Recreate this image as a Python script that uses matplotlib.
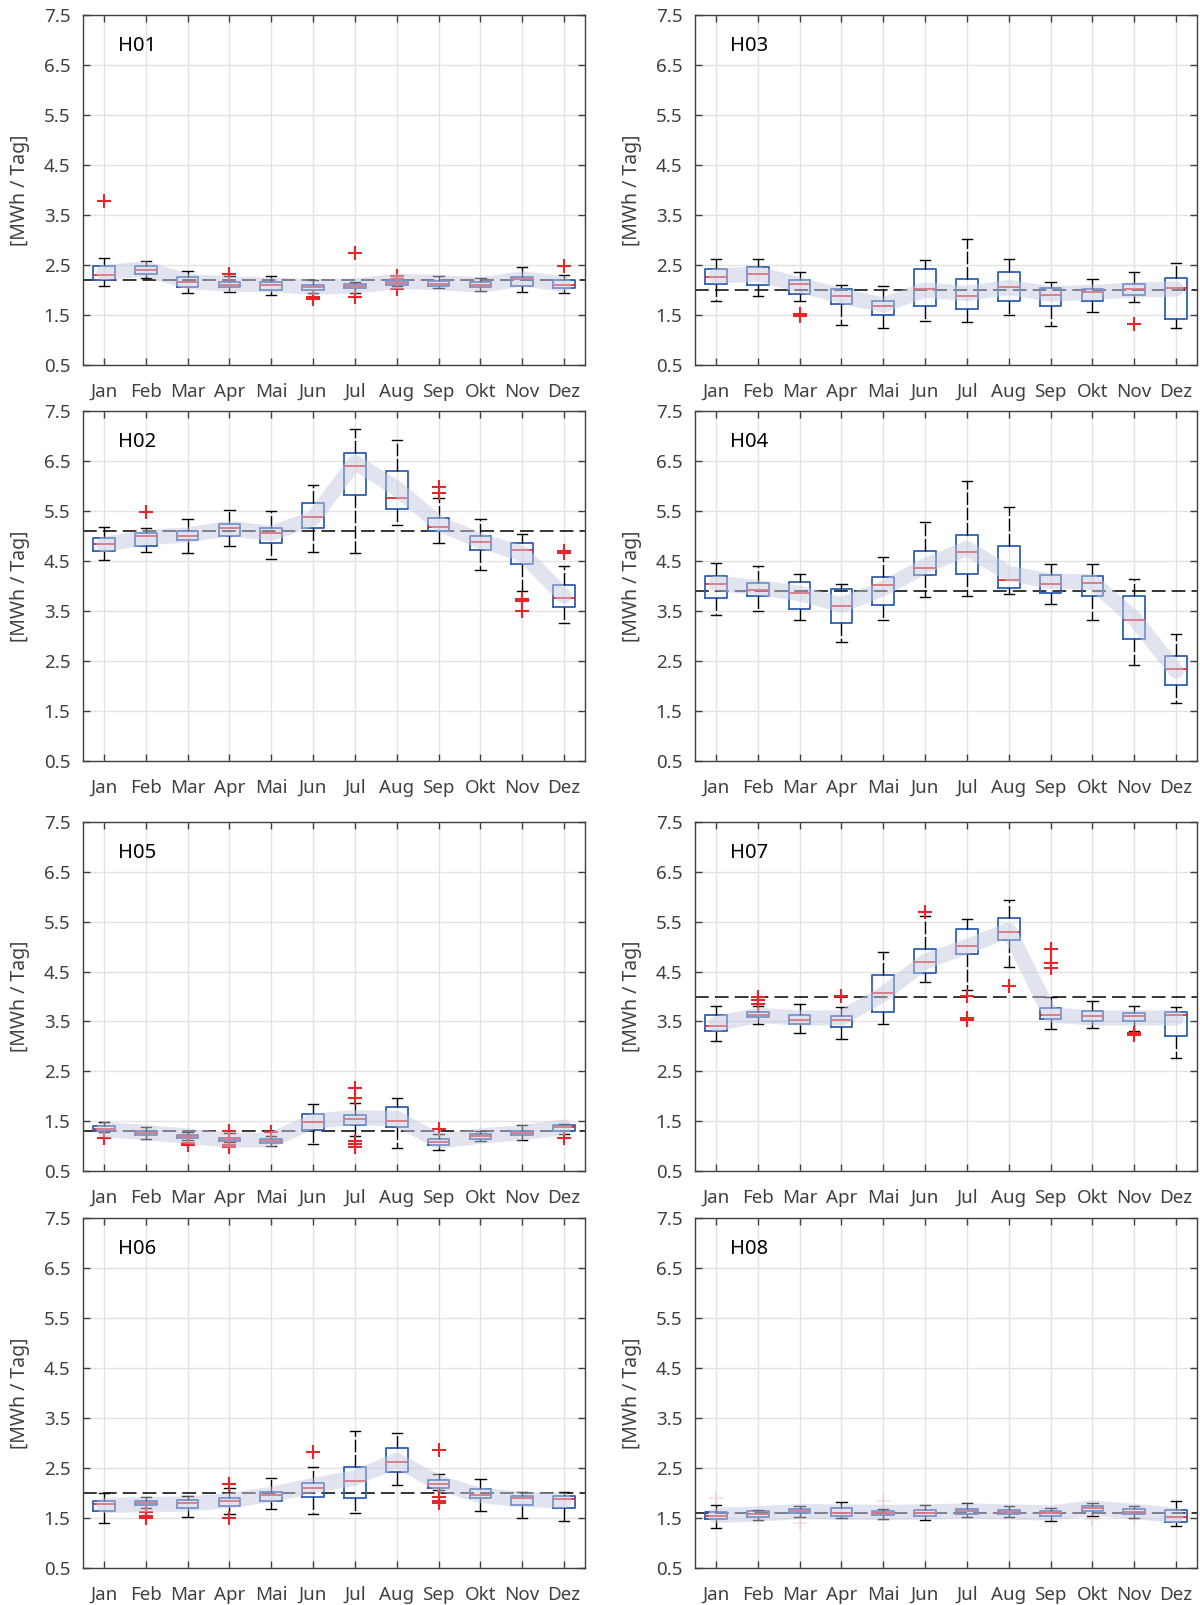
import matplotlib
matplotlib.use("Agg")
import matplotlib.pyplot as plt

plt.rcParams['font.family'] = ['Noto Sans', 'DejaVu Sans']

months = ["Jan", "Feb", "Mar", "Apr", "Mai", "Jun", "Jul", "Aug", "Sep", "Okt", "Nov", "Dez"]
yticks = [0.5, 1.5, 2.5, 3.5, 4.5, 5.5, 6.5, 7.5]

# H01
h01_lo = [2.09, 2.25, 1.95, 1.97, 1.90, 1.94, 1.95, 2.08, 2.04, 1.99, 1.97, 1.94]
h01_q1 = [2.21, 2.33, 2.07, 2.07, 2.00, 2.01, 2.05, 2.11, 2.08, 2.07, 2.08, 2.05]
h01_med = [2.31, 2.41, 2.17, 2.10, 2.10, 2.07, 2.09, 2.15, 2.13, 2.11, 2.23, 2.10]
h01_q3 = [2.48, 2.48, 2.27, 2.16, 2.17, 2.11, 2.13, 2.18, 2.19, 2.16, 2.27, 2.21]
h01_hi = [2.65, 2.59, 2.38, 2.29, 2.28, 2.20, 2.16, 2.25, 2.29, 2.25, 2.46, 2.31]
h01_fl = [[3.78], [], [], [2.33], [], [1.83, 1.87], [2.75, 1.86], [2.28, 2.22, 2.03], [], [], [], [2.48]]
h01_band = [2.35, 2.42, 2.17, 2.12, 2.10, 2.06, 2.08, 2.17, 2.15, 2.10, 2.22, 2.12]
h01_ref = 2.2

# H02
h02_lo = [4.53, 4.68, 4.67, 4.81, 4.54, 4.69, 4.67, 5.22, 4.86, 4.32, 3.91, 3.26]
h02_q1 = [4.71, 4.81, 4.93, 5.00, 4.86, 5.16, 5.82, 5.54, 5.10, 4.73, 4.44, 3.59]
h02_med = [4.85, 5.01, 5.01, 5.16, 5.07, 5.39, 6.41, 5.77, 5.18, 4.88, 4.73, 3.77]
h02_q3 = [4.96, 5.06, 5.11, 5.25, 5.17, 5.66, 6.66, 6.30, 5.37, 5.00, 4.87, 4.03]
h02_hi = [5.19, 5.17, 5.35, 5.52, 5.50, 6.02, 7.14, 6.93, 5.77, 5.35, 5.04, 4.41]
h02_fl = [[], [5.48], [], [], [], [], [], [], [5.98, 5.87], [], [3.75, 3.71, 3.51], [4.71, 4.67]]
h02_band = [4.83, 4.97, 5.02, 5.15, 5.05, 5.35, 6.47, 5.95, 5.25, 4.90, 4.65, 3.80]
h02_ref = 5.1

# H03
h03_lo = [1.78, 1.89, 1.78, 1.30, 1.25, 1.38, 1.37, 1.50, 1.28, 1.56, 1.76, 1.24]
h03_q1 = [2.13, 2.11, 1.93, 1.72, 1.50, 1.68, 1.63, 1.79, 1.68, 1.78, 1.91, 1.43]
h03_med = [2.27, 2.33, 2.13, 1.88, 1.68, 2.03, 1.89, 2.07, 1.91, 1.96, 2.03, 2.04]
h03_q3 = [2.43, 2.47, 2.20, 2.03, 1.78, 2.43, 2.23, 2.37, 2.05, 2.03, 2.13, 2.25]
h03_hi = [2.63, 2.63, 2.36, 2.11, 2.09, 2.60, 3.03, 2.63, 2.17, 2.23, 2.36, 2.55]
h03_fl = [[], [], [1.48, 1.52], [], [], [], [], [], [], [], [1.33], []]
h03_band = [2.28, 2.32, 2.10, 1.88, 1.70, 2.00, 1.93, 2.05, 1.92, 1.95, 2.00, 2.02]
h03_ref = 2.0

# H04
h04_lo = [3.43, 3.51, 3.32, 2.88, 3.32, 3.79, 3.81, 3.85, 3.65, 3.32, 2.42, 1.66]
h04_q1 = [3.76, 3.81, 3.55, 3.26, 3.62, 4.23, 4.25, 3.97, 3.86, 3.81, 2.94, 2.03]
h04_med = [4.05, 3.92, 3.87, 3.60, 4.02, 4.37, 4.69, 4.13, 4.05, 4.07, 3.33, 2.34]
h04_q3 = [4.21, 4.07, 4.08, 3.94, 4.19, 4.71, 5.03, 4.80, 4.23, 4.21, 3.81, 2.60]
h04_hi = [4.47, 4.41, 4.25, 4.05, 4.58, 5.29, 6.10, 5.58, 4.45, 4.44, 4.14, 3.04]
h04_fl = [[], [], [], [], [], [], [], [], [], [], [], []]
h04_band = [4.05, 3.97, 3.85, 3.62, 3.95, 4.40, 4.75, 4.25, 4.10, 4.08, 3.35, 2.30]
h04_ref = 3.9

# H05
h05_lo = [1.29, 1.15, 1.12, 1.09, 1.00, 1.05, 1.20, 0.97, 0.93, 1.10, 1.13, 1.25]
h05_q1 = [1.30, 1.23, 1.17, 1.11, 1.07, 1.33, 1.43, 1.39, 1.03, 1.15, 1.23, 1.31]
h05_med = [1.35, 1.27, 1.21, 1.14, 1.11, 1.49, 1.55, 1.51, 1.09, 1.20, 1.27, 1.38]
h05_q3 = [1.40, 1.31, 1.23, 1.17, 1.15, 1.65, 1.63, 1.79, 1.15, 1.25, 1.30, 1.42]
h05_hi = [1.49, 1.38, 1.29, 1.27, 1.20, 1.85, 1.87, 1.97, 1.25, 1.31, 1.43, 1.45]
h05_fl = [[1.17], [], [1.07, 1.03], [1.30, 1.03, 0.99], [1.28], [],
          [2.17, 1.97, 1.10, 1.05, 0.98], [], [1.35], [], [], [1.17]]
h05_band = [1.33, 1.27, 1.20, 1.12, 1.12, 1.50, 1.57, 1.55, 1.10, 1.20, 1.27, 1.38]
h05_ref = 1.3

# H06
h06_lo = [1.40, 1.70, 1.52, 1.58, 1.69, 1.59, 1.61, 2.17, 2.07, 1.65, 1.51, 1.45]
h06_q1 = [1.65, 1.77, 1.71, 1.75, 1.85, 1.92, 1.90, 2.43, 2.11, 1.90, 1.77, 1.71]
h06_med = [1.79, 1.81, 1.80, 1.85, 1.97, 2.11, 2.25, 2.63, 2.18, 1.97, 1.91, 1.88]
h06_q3 = [1.85, 1.85, 1.87, 1.90, 2.03, 2.20, 2.53, 2.91, 2.27, 2.08, 1.95, 1.95]
h06_hi = [2.01, 1.92, 1.95, 2.10, 2.31, 2.53, 3.25, 3.21, 2.38, 2.29, 2.02, 2.03]
h06_fl = [[], [1.63, 1.55, 1.50], [], [2.18, 1.50], [], [2.83], [], [],
          [2.87, 1.93, 1.85, 1.80], [], [], []]
h06_band = [1.75, 1.77, 1.78, 1.85, 1.97, 2.15, 2.30, 2.65, 2.20, 1.95, 1.87, 1.85]
h06_ref = 2.0

# H07
h07_lo = [3.11, 3.45, 3.27, 3.14, 3.45, 4.30, 4.13, 4.60, 3.35, 3.37, 3.30, 2.77]
h07_q1 = [3.31, 3.58, 3.45, 3.39, 3.69, 4.47, 4.85, 5.13, 3.55, 3.50, 3.51, 3.21]
h07_med = [3.40, 3.63, 3.53, 3.53, 4.07, 4.70, 5.01, 5.30, 3.63, 3.60, 3.61, 3.62]
h07_q3 = [3.63, 3.69, 3.63, 3.61, 4.44, 4.95, 5.35, 5.57, 3.77, 3.71, 3.67, 3.69]
h07_hi = [3.81, 3.80, 3.85, 3.78, 4.90, 5.62, 5.55, 5.93, 3.99, 3.91, 3.81, 3.78]
h07_fl = [[], [4.00, 3.92, 3.85], [], [4.01], [], [5.69], [4.01, 3.57, 3.53], [4.21],
          [4.95, 4.67, 4.57], [], [3.27, 3.22], []]
h07_band = [3.45, 3.62, 3.57, 3.57, 4.05, 4.70, 5.00, 5.33, 3.63, 3.57, 3.57, 3.57]
h07_ref = 4.0

# H08
h08_lo = [1.30, 1.47, 1.53, 1.50, 1.49, 1.47, 1.53, 1.53, 1.45, 1.55, 1.51, 1.35]
h08_q1 = [1.48, 1.53, 1.60, 1.55, 1.57, 1.55, 1.58, 1.59, 1.55, 1.65, 1.59, 1.42]
h08_med = [1.55, 1.59, 1.65, 1.60, 1.61, 1.61, 1.65, 1.63, 1.60, 1.70, 1.63, 1.53]
h08_q3 = [1.62, 1.64, 1.69, 1.71, 1.65, 1.67, 1.69, 1.67, 1.65, 1.75, 1.69, 1.67]
h08_hi = [1.77, 1.67, 1.75, 1.82, 1.69, 1.77, 1.80, 1.75, 1.71, 1.80, 1.75, 1.85]
h08_fl = [[1.91], [], [1.40], [], [1.85], [], [], [], [], [1.48], [1.50], []]
h08_band = [1.55, 1.58, 1.63, 1.62, 1.61, 1.62, 1.64, 1.62, 1.60, 1.70, 1.63, 1.55]
h08_ref = 1.6

panels = [
    ("H01", h01_lo, h01_q1, h01_med, h01_q3, h01_hi, h01_fl, h01_band, h01_ref, 1.0),
    ("H03", h03_lo, h03_q1, h03_med, h03_q3, h03_hi, h03_fl, h03_band, h03_ref, 1.0),
    ("H02", h02_lo, h02_q1, h02_med, h02_q3, h02_hi, h02_fl, h02_band, h02_ref, 1.0),
    ("H04", h04_lo, h04_q1, h04_med, h04_q3, h04_hi, h04_fl, h04_band, h04_ref, 1.0),
    ("H05", h05_lo, h05_q1, h05_med, h05_q3, h05_hi, h05_fl, h05_band, h05_ref, 1.0),
    ("H07", h07_lo, h07_q1, h07_med, h07_q3, h07_hi, h07_fl, h07_band, h07_ref, 1.0),
    ("H06", h06_lo, h06_q1, h06_med, h06_q3, h06_hi, h06_fl, h06_band, h06_ref, 1.0),
    ("H08", h08_lo, h08_q1, h08_med, h08_q3, h08_hi, h08_fl, h08_band, h08_ref, 0.12),
]

W, H = 1200, 1605
col_left = [83, 695]
rows = [(15, 365), (411, 761), (822, 1171), (1218, 1568)]
ax_w = 502

fig = plt.figure(figsize=(W / 100, H / 100), dpi=100)

box_c = '#2f5fb4'
med_c = '#e8262a'
txt_c = '#404040'
band_c = '#c5cae0'

for i, (name, lo, q1, med, q3, hi, fl, band, ref, fl_alpha) in enumerate(panels):
    r, c = divmod(i, 2)
    top, bot = rows[r]
    ax = fig.add_axes([col_left[c] / W, 1 - bot / H, ax_w / W, (bot - top) / H])

    stats = []
    for k in range(12):
        stats.append(dict(whislo=lo[k], q1=q1[k], med=med[k], q3=q3[k], whishi=hi[k], fliers=fl[k]))
    pos = list(range(1, 13))

    ax.axhline(ref, color='k', lw=1.1, ls=(0, (9, 4)), zorder=2)
    ax.bxp(stats, positions=pos, widths=0.52, capwidths=0.25, showfliers=True,
           boxprops=dict(color=box_c, lw=1.3),
           medianprops=dict(color=med_c, lw=1.3),
           whiskerprops=dict(color='k', lw=1.0, ls=(0, (9, 2))),
           capprops=dict(color='k', lw=1.0),
           flierprops=dict(marker='+', markeredgecolor=med_c, markersize=10, mew=1.5, alpha=fl_alpha),
           zorder=3)
    ax.plot(pos, band, color=band_c, lw=11, alpha=0.5, solid_joinstyle='round',
            solid_capstyle='round', zorder=4)

    ax.set_xlim(0.5, 12.5)
    ax.set_ylim(0.5, 7.5)
    ax.set_xticks(pos)
    ax.set_xticklabels(months)
    ax.set_yticks(yticks)
    ax.set_yticklabels(["%.1f" % v for v in yticks])
    ax.grid(True, color='#e3e3e3', lw=1.0)
    ax.set_axisbelow(True)
    ax.tick_params(direction='in', top=True, right=True, length=5, width=1,
                   color=txt_c, labelcolor=txt_c, labelsize=13.5)
    ax.tick_params(axis='x', pad=13)
    ax.tick_params(axis='y', pad=9)
    for s in ax.spines.values():
        s.set_color(txt_c)
        s.set_linewidth(1.0)
    ax.set_ylabel("[MWh / Tag]", fontsize=14, color=txt_c)
    ax.yaxis.set_label_coords(-0.105, 0.5)
    ax.text(0.07, 6.88, name, transform=ax.get_yaxis_transform(), fontsize=14.5,
            color='k', va='center', ha='left')

fig.savefig("out.png", dpi=100)
